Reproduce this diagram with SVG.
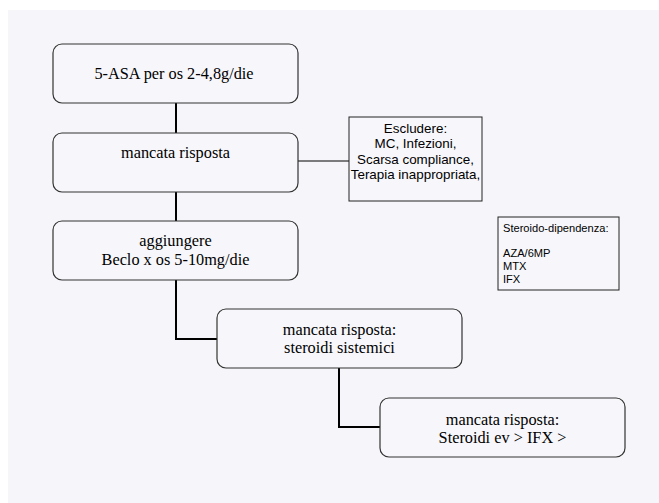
<svg xmlns="http://www.w3.org/2000/svg" width="659" height="503" viewBox="0 0 659 503">
  <style>
    .node { fill: #f7f7fb; stroke: #333; stroke-width: 1.2; }
    .note { fill: #f7f7fb; stroke: #222; stroke-width: 1; }
    .t { font-family: "Liberation Serif", "Times New Roman", serif; font-size: 16.3px; fill: #000; text-anchor: middle; }
    .s { font-family: "Liberation Sans", Arial, sans-serif; font-size: 13.4px; fill: #000; }
    .s2 { font-family: "Liberation Sans", Arial, sans-serif; font-size: 11.1px; fill: #000; }
    .link { fill: none; stroke: #000; stroke-width: 2; }
    .thin { fill: none; stroke: #000; stroke-width: 1; }
  </style>
  <rect x="0" y="0" width="659" height="503" fill="#ffffff"/>
  <rect x="8" y="10" width="651" height="493" fill="#f6f6fa"/>

  <g id="connectors">
    <line class="link" x1="176" y1="103" x2="176" y2="133"/>
    <line class="link" x1="176" y1="192" x2="176" y2="221"/>
    <polyline class="link" points="176,280 176,339 217,339"/>
    <polyline class="link" points="339,368 339,427 380,427"/>
    <line class="thin" x1="298" y1="161" x2="349" y2="161"/>
  </g>

  <g id="asa">
    <rect class="node" x="53" y="44" width="245" height="59" rx="9"/>
    <text class="t" x="174" y="79">5-ASA per os 2-4,8g/die</text>
  </g>

  <g id="mancata1">
    <rect class="node" x="53" y="133" width="245" height="59" rx="9"/>
    <text class="t" x="175.5" y="158">mancata risposta</text>
  </g>

  <g id="beclo">
    <rect class="node" x="53" y="221" width="245" height="59" rx="9"/>
    <text class="t" x="175.5" y="246">aggiungere</text>
    <text class="t" x="175.5" y="265">Beclo x os 5-10mg/die</text>
  </g>

  <g id="steroidi">
    <rect class="node" x="217" y="309" width="245" height="59" rx="9"/>
    <text class="t" x="339.5" y="335">mancata risposta:</text>
    <text class="t" x="339.5" y="353">steroidi sistemici</text>
  </g>

  <g id="ev">
    <rect class="node" x="380" y="398" width="245" height="59" rx="9"/>
    <text class="t" x="502.5" y="425">mancata risposta:</text>
    <text class="t" x="502.5" y="443">Steroidi ev &gt; IFX &gt;</text>
  </g>

  <g id="escludere">
    <rect class="note" x="349" y="117" width="133" height="84"/>
    <g class="s" text-anchor="middle">
      <text x="415.5" y="133">Escludere:</text>
      <text x="415.5" y="148">MC, Infezioni,</text>
      <text x="415.5" y="164">Scarsa compliance,</text>
      <text x="415.5" y="179">Terapia inappropriata,</text>
    </g>
  </g>

  <g id="dipendenza">
    <rect class="note" x="498" y="217" width="121" height="73"/>
    <g class="s2">
      <text x="503" y="232">Steroido-dipendenza:</text>
      <text x="503" y="257">AZA/6MP</text>
      <text x="503" y="270">MTX</text>
      <text x="503" y="283">IFX</text>
    </g>
  </g>
</svg>
